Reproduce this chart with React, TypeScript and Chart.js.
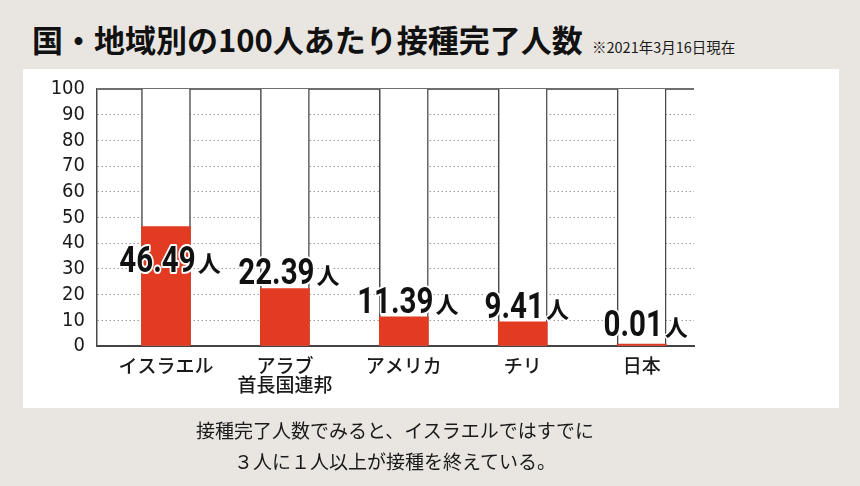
import React, { useEffect, useRef } from "react";
import { Chart, registerables } from "chart.js";

Chart.register(...registerables);

const titleText = "国・地域別の100人あたり接種完了人数";
const noteText = "※2021年3月16日現在";
const captionLines = [
  "接種完了人数でみると、イスラエルではすでに",
  "３人に１人以上が接種を終えている。",
];
const categories: (string | string[])[] = [
  "イスラエル",
  ["アラブ", "首長国連邦"],
  "アメリカ",
  "チリ",
  "日本",
];
const values = [46.49, 22.39, 11.39, 9.41, 0.01];
const fullScale = [100, 100, 100, 100, 100];
const yTickValues = [0, 10, 20, 30, 40, 50, 60, 70, 80, 90, 100];
const unitText = "人";

const RED = "#e33a22";
const NUM_FONT = "'Liberation Sans Narrow', 'DejaVu Sans Condensed', Roboto, sans-serif";
const JP_FONT = "'Noto Sans CJK JP', 'Noto Sans', sans-serif";

const valueLabelPlugin = {
  id: "valueLabels",
  afterDatasetsDraw(chart: any) {
    const { ctx } = chart;
    const yScale = chart.scales.y;
    const meta = chart.getDatasetMeta(0);
    meta.data.forEach((bar: any, i: number) => {
      const v = values[i];
      const anchor = Math.min(Math.max(v + 6.5, 8.7), 33.5);
      const cy = yScale.getPixelForValue(anchor);
      const digits = v.toFixed(2);
      const sx = 0.82;
      ctx.save();
      ctx.font = "bold 36px Roboto, 'Noto Sans', sans-serif";
      const dw = ctx.measureText(digits).width * sx;
      ctx.font = `bold 23px ${JP_FONT}`;
      const kw = ctx.measureText(unitText).width;
      const gap = 2;
      const total = dw + gap + kw;
      const left = bar.x + 4 - total / 2;
      const baseline = cy + 12.5;
      ctx.lineJoin = "round";
      ctx.textBaseline = "alphabetic";
      ctx.textAlign = "left";
      ctx.save();
      ctx.translate(left, baseline);
      ctx.scale(sx, 1);
      ctx.font = "bold 36px Roboto, 'Noto Sans', sans-serif";
      ctx.lineWidth = 4;
      ctx.strokeStyle = "#ffffff";
      ctx.strokeText(digits, 0, 0);
      ctx.fillStyle = "#111111";
      ctx.fillText(digits, 0, 0);
      ctx.restore();
      ctx.font = `bold 23px ${JP_FONT}`;
      ctx.lineWidth = 3;
      ctx.strokeStyle = "#ffffff";
      ctx.strokeText(unitText, left + dw + gap, baseline);
      ctx.fillStyle = "#111111";
      ctx.fillText(unitText, left + dw + gap, baseline);
      ctx.restore();
    });
  },
};

function BarChart() {
  const ref = useRef<HTMLCanvasElement | null>(null);
  useEffect(() => {
    if (!ref.current) return;
    const chart = new Chart(ref.current, {
      type: "bar",
      data: {
        datasets: [
          {
            data: values.map((v, i) => ({ x: i, y: v })),
            backgroundColor: RED,
            borderWidth: 0,
            barThickness: 49,
            minBarLength: 2,
            grouped: false,
          } as any,
          {
            data: fullScale.map((v, i) => ({ x: i, y: v })),
            backgroundColor: "#ffffff",
            borderColor: "#4a4a4a",
            borderWidth: { top: 0, left: 1.5, right: 1.5, bottom: 0 },
            barThickness: 49,
            grouped: false,
          } as any,
        ],
      },
      options: {
        responsive: false,
        animation: false,
        events: [],
        layout: { padding: { left: 0, top: 89, right: 166, bottom: 80 } },
        plugins: { legend: { display: false }, tooltip: { enabled: false } },
        scales: {
          x: {
            type: "linear",
            offset: false,
            min: -0.58,
            max: 4.44,
            afterBuildTicks: (axis: any) => {
              axis.ticks = categories.map((_, i) => ({ value: i }));
            },
            afterFit: (axis: any) => {
              axis.height = 60;
            },
            grid: { display: false, drawTicks: false },
            border: { display: true, color: "#444444", width: 2 },
            ticks: {
              autoSkip: false,
              maxRotation: 0,
              padding: 10,
              color: "#1a1a1a",
              font: { family: JP_FONT, size: 19, weight: 500, lineHeight: 1.02 },
              callback: (value: any) => categories[value as number] as any,
            },
          } as any,
          y: {
            min: 0,
            max: 100,
            afterBuildTicks: (axis: any) => {
              axis.ticks = yTickValues.map((v) => ({ value: v }));
            },
            afterFit: (axis: any) => {
              axis.width = 97;
            },
            grid: {
              drawTicks: false,
              color: (c: any) =>
                c.tick && c.tick.value === 100 ? "#6e6e6e" : "#9a9a9a",
              lineWidth: (c: any) => (c.tick && c.tick.value === 100 ? 2 : 1),
            },
            border: {
              display: true,
              color: "#4a4a4a",
              width: 1.5,
              dash: (c: any) =>
                c.tick && c.tick.value !== 100 && c.tick.value !== 0 ? [1.5, 2.5] : [],
            },
            ticks: {
              autoSkip: false,
              padding: 12,
              color: "#1a1a1a",
              font: { family: NUM_FONT, size: 20 },
            },
          } as any,
        },
      },
      plugins: [valueLabelPlugin],
    });
    return () => chart.destroy();
  }, []);
  return (
    <canvas
      ref={ref}
      width={860}
      height={486}
      style={{ position: "absolute", left: 0, top: 0, width: 860, height: 486 }}
    />
  );
}

export default function App() {
  return (
    <div
      style={{
        position: "fixed",
        left: 0,
        top: 0,
        width: 860,
        height: 486,
        background: "#e9e6e1",
        overflow: "hidden",
        fontFamily: JP_FONT,
      }}
    >
      <div
        style={{
          position: "absolute",
          left: 23,
          top: 69,
          width: 816,
          height: 339,
          background: "#ffffff",
        }}
      />
      <div
        style={{
          position: "absolute",
          left: 32,
          top: 23,
          fontSize: 31,
          lineHeight: "32px",
          fontWeight: 700,
          color: "#111111",
          whiteSpace: "nowrap",
        }}
      >
        {titleText}
      </div>
      <div
        style={{
          position: "absolute",
          left: 592,
          top: 39,
          fontSize: 14.5,
          lineHeight: "16px",
          color: "#1a1a1a",
          whiteSpace: "nowrap",
        }}
      >
        {noteText}
      </div>
      <BarChart />
      <div
        style={{
          position: "absolute",
          left: 95,
          top: 414,
          width: 600,
          textAlign: "center",
          fontSize: 19,
          lineHeight: "31px",
          color: "#1a1a1a",
        }}
      >
        {captionLines.map((l, i) => (
          <div key={i}>{l}</div>
        ))}
      </div>
    </div>
  );
}
